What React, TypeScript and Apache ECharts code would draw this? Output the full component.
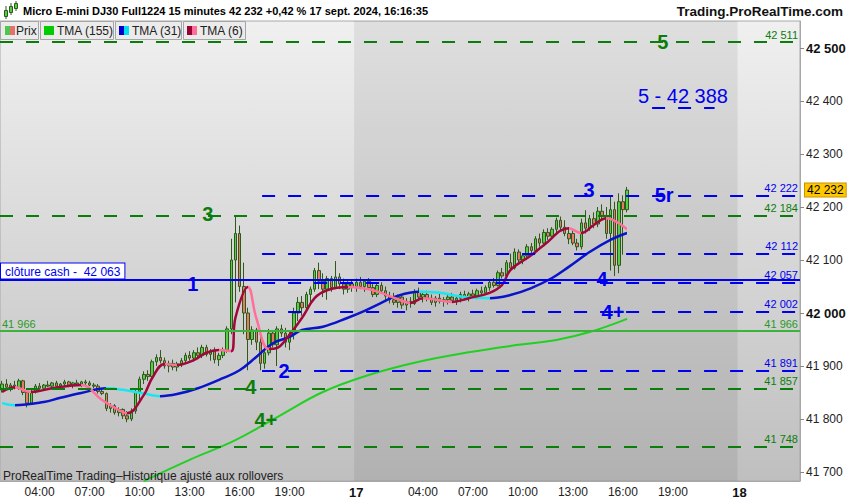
import React, { useEffect, useRef } from "react";
import * as echarts from "echarts";

// 15-minute bars, index 0 = 16 sept 01:45 (23:00-23:45 break skipped), 192 slots up to 18 sept 03:30
const SLOT_COUNT = 192;
const xTickBars = [9, 21, 33, 45, 57, 69, 85, 101, 113, 125, 137, 149, 161, 177];
const xTickText = ["04:00", "07:00", "10:00", "13:00", "16:00", "19:00", "17", "04:00", "07:00", "10:00", "13:00", "16:00", "19:00", "18"];
const dayTicks = ["17", "18"];
const yTicks = [41700, 41800, 41900, 42000, 42100, 42200, 42300, 42400, 42500];

// [open, high, low, close]
const candles: number[][] = [
  [41855, 41872, 41850, 41866], [41866, 41875, 41858, 41860], [41860, 41868, 41852, 41864], [41864, 41872, 41856, 41858],
  [41858, 41876, 41855, 41872], [41872, 41874, 41845, 41850], [41850, 41852, 41822, 41830], [41830, 41858, 41828, 41852],
  [41852, 41866, 41848, 41862], [41862, 41868, 41855, 41858], [41858, 41866, 41854, 41864], [41864, 41872, 41860, 41862],
  [41862, 41870, 41856, 41868], [41868, 41872, 41860, 41862], [41862, 41868, 41855, 41866], [41866, 41874, 41862, 41870],
  [41870, 41872, 41860, 41864], [41864, 41870, 41858, 41868], [41868, 41874, 41862, 41866], [41866, 41872, 41860, 41870],
  [41870, 41874, 41864, 41868], [41868, 41872, 41862, 41864], [41864, 41868, 41858, 41862], [41862, 41866, 41848, 41852],
  [41852, 41856, 41845, 41848], [41848, 41850, 41815, 41820], [41820, 41830, 41812, 41825], [41825, 41828, 41808, 41812],
  [41812, 41822, 41805, 41818], [41818, 41820, 41800, 41806], [41806, 41815, 41794, 41800], [41800, 41820, 41796, 41815],
  [41815, 41858, 41810, 41852], [41852, 41880, 41832, 41875], [41875, 41890, 41866, 41884], [41884, 41892, 41872, 41880],
  [41880, 41912, 41878, 41908], [41908, 41922, 41900, 41916], [41916, 41930, 41905, 41910], [41910, 41916, 41895, 41900],
  [41900, 41910, 41888, 41905], [41905, 41912, 41892, 41898], [41898, 41908, 41890, 41904], [41904, 41915, 41898, 41910],
  [41910, 41925, 41905, 41920], [41920, 41928, 41910, 41915], [41915, 41930, 41908, 41925], [41925, 41935, 41915, 41920],
  [41920, 41940, 41915, 41935], [41935, 41940, 41918, 41922], [41922, 41932, 41910, 41928], [41928, 41935, 41905, 41912],
  [41912, 41925, 41900, 41920], [41920, 41935, 41915, 41930], [41930, 41975, 41925, 41970], [41970, 42140, 41960, 42100],
  [42100, 42184, 42020, 42150], [42150, 42165, 42040, 42050], [42050, 42095, 41960, 42000], [42000, 42010, 41892, 41950],
  [41950, 41975, 41940, 41968], [41968, 41972, 41930, 41945], [41945, 41960, 41892, 41905], [41905, 41935, 41895, 41925],
  [41925, 41970, 41920, 41962], [41962, 41968, 41935, 41940], [41940, 41975, 41900, 41970], [41970, 41978, 41955, 41962],
  [41962, 41972, 41935, 41945], [41945, 41965, 41930, 41960], [41960, 42010, 41950, 42000], [42000, 42030, 41985, 42020],
  [42020, 42032, 41995, 42010], [42010, 42040, 42005, 42035], [42035, 42050, 42015, 42045], [42045, 42085, 42040, 42080],
  [42080, 42095, 42045, 42060], [42060, 42075, 42030, 42045], [42045, 42070, 42025, 42065], [42065, 42070, 42040, 42048],
  [42048, 42098, 42045, 42068], [42068, 42075, 42045, 42055], [42055, 42065, 42035, 42045], [42045, 42060, 42038, 42055],
  [42055, 42062, 42040, 42050], [42050, 42065, 42040, 42058], [42058, 42068, 42045, 42050], [42050, 42062, 42040, 42060],
  [42060, 42066, 42045, 42048], [42048, 42058, 42030, 42035], [42035, 42055, 42030, 42052], [42052, 42058, 42038, 42042],
  [42042, 42050, 42025, 42032], [42032, 42040, 42018, 42025], [42025, 42038, 42015, 42020], [42020, 42035, 42010, 42030],
  [42030, 42034, 42008, 42015], [42015, 42028, 42005, 42022], [42022, 42030, 42010, 42018], [42018, 42045, 42015, 42040],
  [42040, 42048, 42025, 42030], [42030, 42040, 42020, 42035], [42035, 42042, 42022, 42028], [42028, 42035, 42015, 42020],
  [42020, 42032, 42012, 42028], [42028, 42036, 42018, 42022], [42022, 42030, 42012, 42025], [42025, 42034, 42016, 42030],
  [42030, 42038, 42020, 42024], [42024, 42032, 42015, 42028], [42028, 42040, 42020, 42035], [42035, 42042, 42024, 42030],
  [42030, 42040, 42022, 42036], [42036, 42044, 42028, 42032], [42032, 42046, 42026, 42042], [42042, 42050, 42032, 42038],
  [42038, 42052, 42034, 42048], [42048, 42062, 42042, 42058], [42058, 42066, 42048, 42052], [42052, 42080, 42050, 42076],
  [42076, 42085, 42065, 42070], [42070, 42100, 42068, 42095], [42095, 42112, 42080, 42085], [42085, 42122, 42082, 42115],
  [42115, 42120, 42095, 42100], [42100, 42112, 42092, 42108], [42108, 42130, 42100, 42125], [42125, 42132, 42110, 42118],
  [42118, 42145, 42112, 42140], [42140, 42150, 42125, 42132], [42132, 42158, 42128, 42152], [42152, 42160, 42138, 42145],
  [42145, 42162, 42140, 42158], [42158, 42180, 42150, 42175], [42175, 42182, 42155, 42162], [42162, 42175, 42145, 42150],
  [42150, 42160, 42130, 42140], [42150, 42155, 42128, 42132], [42132, 42140, 42118, 42125], [42125, 42178, 42120, 42170],
  [42170, 42194, 42150, 42160], [42160, 42185, 42155, 42178], [42178, 42190, 42160, 42168], [42168, 42200, 42162, 42192],
  [42192, 42205, 42175, 42182], [42182, 42200, 42140, 42150], [42150, 42220, 42080, 42195], [42195, 42210, 42070, 42090],
  [42090, 42226, 42075, 42210], [42210, 42222, 42110, 42195], [42195, 42238, 42190, 42232],
];

// moving averages: [bar index, value]
const tma155: number[][] = [
  [34, 41683], [45, 41723], [56, 41760], [67, 41808], [77, 41851], [88, 41883], [100, 41908],
  [112, 41926], [124, 41940], [133, 41949], [141, 41964], [150, 41989],
];
const tma31: number[][] = [
  [0, 41830], [3, 41826], [10, 41832], [14, 41840], [19, 41849], [25, 41858], [29, 41855], [36, 41845],
  [38, 41843], [42, 41847], [47, 41858], [53, 41877], [57, 41892], [61, 41917], [65, 41943], [69, 41955],
  [72, 41968], [77, 41974], [83, 41991], [87, 42004], [91, 42019], [94, 42030], [100, 42040], [105, 42038],
  [111, 42030], [117, 42028], [122, 42034], [127, 42047], [132, 42066], [136, 42087], [141, 42115],
  [146, 42138], [150, 42151],
];
const tma6: number[][] = [
  [0, 41851], [3, 41860], [7, 41851], [12, 41858], [19, 41864], [24, 41836], [28, 41817], [30, 41811],
  [34, 41845], [36, 41877], [39, 41904], [42, 41902], [46, 41911], [49, 41925], [52, 41930], [55, 41928],
  [56, 41991], [59, 42049], [61, 41991], [64, 41932], [66, 41934], [68, 41949], [72, 41991], [75, 42028],
  [78, 42043], [83, 42049], [88, 42045], [91, 42038], [95, 42026], [98, 42019], [101, 42028], [108, 42021],
  [112, 42028], [117, 42038], [120, 42053], [122, 42081], [127, 42109], [130, 42128], [136, 42160],
  [139, 42151], [142, 42166], [145, 42179], [150, 42158],
];

const lastPrice = 42232;
const cashClose = 42063;
const greenSolid = 41966;
const greenDashed = [42511, 42184, 41857, 41748];
const blueDashed = [42222, 42112, 42057, 42002, 41891];
const objective = 42388;

// annotation texts: [text, bar index, price, colour key]
const notes: [string, number, number, string][] = [
  ["5", 158.6, 42511, "g"], ["5 - 42 388", 163.4, 42409, "bn"], ["3", 140.9, 42232, "b"], ["5r", 158.9, 42223, "b"],
  ["3", 49.4, 42187, "g"], ["1", 45.8, 42055, "b"], ["4", 144, 42064, "b"], ["4+", 146.6, 42002, "b"],
  ["2", 67.7, 41891, "b"], ["4", 59.7, 41860, "g"], ["4+", 63.3, 41798, "g"],
];

const FONT = '"Liberation Sans", Arial, sans-serif';
const GREEN = "#0b7d0b";
const BLUE = "#0000f0";

const fmt = (v: number) => {
  const s = String(Math.round(v));
  return s.slice(0, s.length - 3) + " " + s.slice(-3);
};

function slopePieces(pts: number[][], up: string, down: string) {
  const pieces: any[] = [];
  for (let k = 0; k < pts.length - 1; k++) {
    const color = pts[k + 1][1] >= pts[k][1] ? up : down;
    const last = pieces[pieces.length - 1];
    if (last && last.color === color) last.lt = pts[k + 1][0];
    else pieces.push({ gte: pts[k][0], lt: pts[k + 1][0], color });
  }
  pieces[pieces.length - 1].lt = undefined;
  pieces[pieces.length - 1].lte = pts[pts.length - 1][0];
  return pieces;
}

export default function App() {
  const ref = useRef<HTMLDivElement>(null);
  useEffect(() => {
    if (!ref.current) return;
    const chart = echarts.init(ref.current, null, { renderer: "svg" });
    const X0 = -0.5;
    const X1 = SLOT_COUNT - 0.5;

    const line = (v: number, a: number, b: number, style: any, label: any) => [
      { coord: [a, v], lineStyle: style, label },
      { coord: [b, v] },
    ];
    const dashG = { color: GREEN, width: 2, type: [13, 13] };
    const dashB = { color: BLUE, width: 2, type: [13, 13] };
    const endLabel = (v: number, color: string) => ({
      show: true, position: "insideEndTop", formatter: fmt(v), color, fontSize: 11, fontFamily: FONT, distance: 2,
    });

    const markLines: any[] = [];
    greenDashed.forEach((v) => markLines.push(line(v, X0, X1, dashG, endLabel(v, GREEN))));
    blueDashed.forEach((v) => markLines.push(line(v, 62.4, X1, dashB, endLabel(v, BLUE))));
    markLines.push(line(objective, 156, 171, dashB, { show: false }));
    markLines.push(line(cashClose, X0, X1, { color: BLUE, width: 2, type: "solid" }, {
      show: true, position: "insideStartTop", formatter: "clôture cash -  " + fmt(cashClose), color: BLUE,
      fontSize: 12, fontFamily: FONT, backgroundColor: "#ffffff", borderColor: BLUE, borderWidth: 1,
      padding: [2, 4, 1, 4], distance: 1,
    }));
    markLines.push(line(greenSolid, X0, X1, { color: "#3cb43c", width: 2, type: "solid" }, {
      show: true, position: "insideStartTop", formatter: fmt(greenSolid), color: "#2a9a2a", fontSize: 11, fontFamily: FONT, distance: 2,
    }));
    markLines.push(line(greenSolid, X0, X1, { width: 0, color: "rgba(0,0,0,0)" }, endLabel(greenSolid, "#2a9a2a")));
    markLines.push(line(lastPrice, X0, X1, { width: 0, color: "rgba(0,0,0,0)" }, {
      show: true, position: "end", distance: 5, formatter: fmt(lastPrice), color: "#000", fontSize: 12, fontFamily: FONT,
      backgroundColor: "#ffc800", borderColor: "#c89200", borderWidth: 1, padding: [1, 2, 0, 2],
    }));

    const markPoints = notes.map(([text, i, p, c]) => ({
      coord: [i, p], symbol: "rect", symbolSize: 1, itemStyle: { color: "rgba(0,0,0,0)" },
      label: {
        show: true, position: "inside", formatter: text, color: c === "g" ? GREEN : BLUE,
        fontSize: 20, fontWeight: c === "bn" ? "normal" : "bold", fontFamily: FONT,
      },
    }));

    const candleData = candles.map((c, i) => [i, c[0], c[3], c[2], c[1]]);

    const text = (x: number, y: number, t: string, font: string, fill = "#111", align = "left") => ({
      type: "text", x, y, z: 100, style: { text: t, font, fill, align, verticalAlign: "middle" },
    });
    const box = (x: number, w: number) => ({
      type: "rect", z: 90, shape: { x: x + 0.5, y: 21.5, width: w, height: 18 },
      style: { fill: "#ebebeb", stroke: "#a6a6a6", lineWidth: 1 },
    });
    const sw = (x: number, w: number, color: string) => ({
      type: "rect", z: 95, shape: { x, y: 26, width: w, height: 9 }, style: { fill: color },
    });

    const graphic: any[] = [
      // header candle icon
      { type: "line", z: 100, shape: { x1: 6, y1: 6, x2: 6, y2: 19 }, style: { stroke: "#2d5a1b", lineWidth: 1 } },
      { type: "rect", z: 101, shape: { x: 4.5, y: 10.5, width: 3, height: 6 }, style: { fill: "#55cc44", stroke: "#2d5a1b", lineWidth: 1 } },
      { type: "line", z: 100, shape: { x1: 11, y1: 3, x2: 11, y2: 15 }, style: { stroke: "#2d5a1b", lineWidth: 1 } },
      { type: "rect", z: 101, shape: { x: 9.5, y: 6.5, width: 3, height: 6 }, style: { fill: "#55cc44", stroke: "#2d5a1b", lineWidth: 1 } },
      { type: "line", z: 100, shape: { x1: 16, y1: 1, x2: 16, y2: 11 }, style: { stroke: "#2d5a1b", lineWidth: 1 } },
      { type: "rect", z: 101, shape: { x: 14.5, y: 3.5, width: 3, height: 5 }, style: { fill: "#55cc44", stroke: "#2d5a1b", lineWidth: 1 } },
      text(23, 11, "Micro E-mini DJ30 Full1224 15 minutes 42 232 +0,42 % 17 sept. 2024, 16:16:35", `bold 11px ${FONT}`, "#000"),
      text(843, 11, "Trading.ProRealTime.com", `bold 13.5px ${FONT}`, "#111", "right"),
      box(0, 38), box(40, 73), box(115, 66), box(183, 62),
      sw(5, 5, "#4cc94c"), sw(10, 5, "#e8706a"), text(16, 31, "Prix", `12px ${FONT}`, "#222"),
      sw(44, 10, "#00cc00"), text(57, 31, "TMA (155)", `12px ${FONT}`, "#222"),
      sw(119, 5, "#0000cc"), sw(124, 5, "#00e0f0"), text(132, 31, "TMA (31)", `12px ${FONT}`, "#222"),
      sw(187, 5, "#990033"), sw(192, 5, "#ff6e98"), text(200, 31, "TMA (6)", `12px ${FONT}`, "#222"),
      text(3, 476, "ProRealTime Trading–Historique ajusté aux rollovers", `12px ${FONT}`, "#222"),
    ];

    chart.setOption({
      animation: false,
      graphic,
      grid: {
        left: 0, right: 50, top: 21, bottom: 19, show: true, borderColor: "#a8a8a8", borderWidth: 1,
        backgroundColor: {
          type: "linear", x: 0, y: 0, x2: 0, y2: 1,
          colorStops: [{ offset: 0, color: "#f0f0f0" }, { offset: 1, color: "#bfbfbf" }],
        },
      },
      xAxis: {
        type: "value", min: X0, max: X1,
        axisLine: { show: true, onZero: false, lineStyle: { color: "#a8a8a8" } },
        axisTick: { show: false },
        splitLine: { show: false },
        axisLabel: {
          customValues: xTickBars, margin: 5,
          formatter: (v: number) => {
            const t = xTickText[xTickBars.indexOf(Math.round(v))] ?? "";
            return dayTicks.includes(t) ? `{d|${t}}` : `{n|${t}}`;
          },
          rich: {
            n: { fontSize: 12, fontFamily: FONT, color: "#222" },
            d: { fontSize: 13, fontWeight: "bold", fontFamily: FONT, color: "#111" },
          },
        },
      },
      yAxis: {
        type: "value", position: "right", min: 41683, max: 42551, scale: true,
        axisLine: { show: true, onZero: false, lineStyle: { color: "#a8a8a8" } },
        axisTick: { show: true, customValues: yTicks, length: 4, lineStyle: { color: "#888" } },
        splitLine: { show: false },
        axisLabel: {
          customValues: yTicks, margin: 6,
          formatter: (v: number) => (v % 500 === 0 ? `{b|${fmt(v)}}` : `{n|${fmt(v)}}`),
          rich: {
            n: { fontSize: 12, fontFamily: FONT, color: "#222" },
            b: { fontSize: 13, fontWeight: "bold", fontFamily: FONT, color: "#111" },
          },
        },
      },
      visualMap: [
        { type: "piecewise", show: false, seriesIndex: 3, dimension: 0, pieces: slopePieces(tma31, "#0a14c8", "#18e6f0") },
        { type: "piecewise", show: false, seriesIndex: 4, dimension: 0, pieces: slopePieces(tma6, "#a0083c", "#ff6f9a") },
      ],
      series: [
        {
          type: "line", data: [], z: 1, silent: true,
          markArea: {
            silent: true, itemStyle: { color: "rgba(0,0,0,0.07)" },
            data: [[{ xAxis: 84.5 }, { xAxis: 176.5 }]],
          },
        },
        {
          type: "candlestick", data: candleData, z: 2, barWidth: 3, clip: false,
          itemStyle: { color: "#55d044", color0: "#e87a68", borderColor: "#2d5a1b", borderColor0: "#2d5a1b", borderWidth: 1 },
        },
        { type: "line", data: tma155, z: 3, smooth: 0.4, showSymbol: false, lineStyle: { color: "#22d022", width: 2 } },
        { type: "line", data: tma31, z: 3, smooth: 0.4, showSymbol: false, lineStyle: { width: 2.5 } },
        { type: "line", data: tma6, z: 4, smooth: 0.4, showSymbol: false, lineStyle: { width: 2.5 } },
        {
          type: "line", data: [], z: 5, clip: false, silent: true,
          markLine: { silent: true, symbol: ["none", "none"], animation: false, data: markLines },
          markPoint: { silent: true, animation: false, data: markPoints },
        },
      ],
    });
    return () => chart.dispose();
  }, []);
  return <div ref={ref} style={{ position: "absolute", left: 0, top: 0, width: 850, height: 500 }} />;
}
